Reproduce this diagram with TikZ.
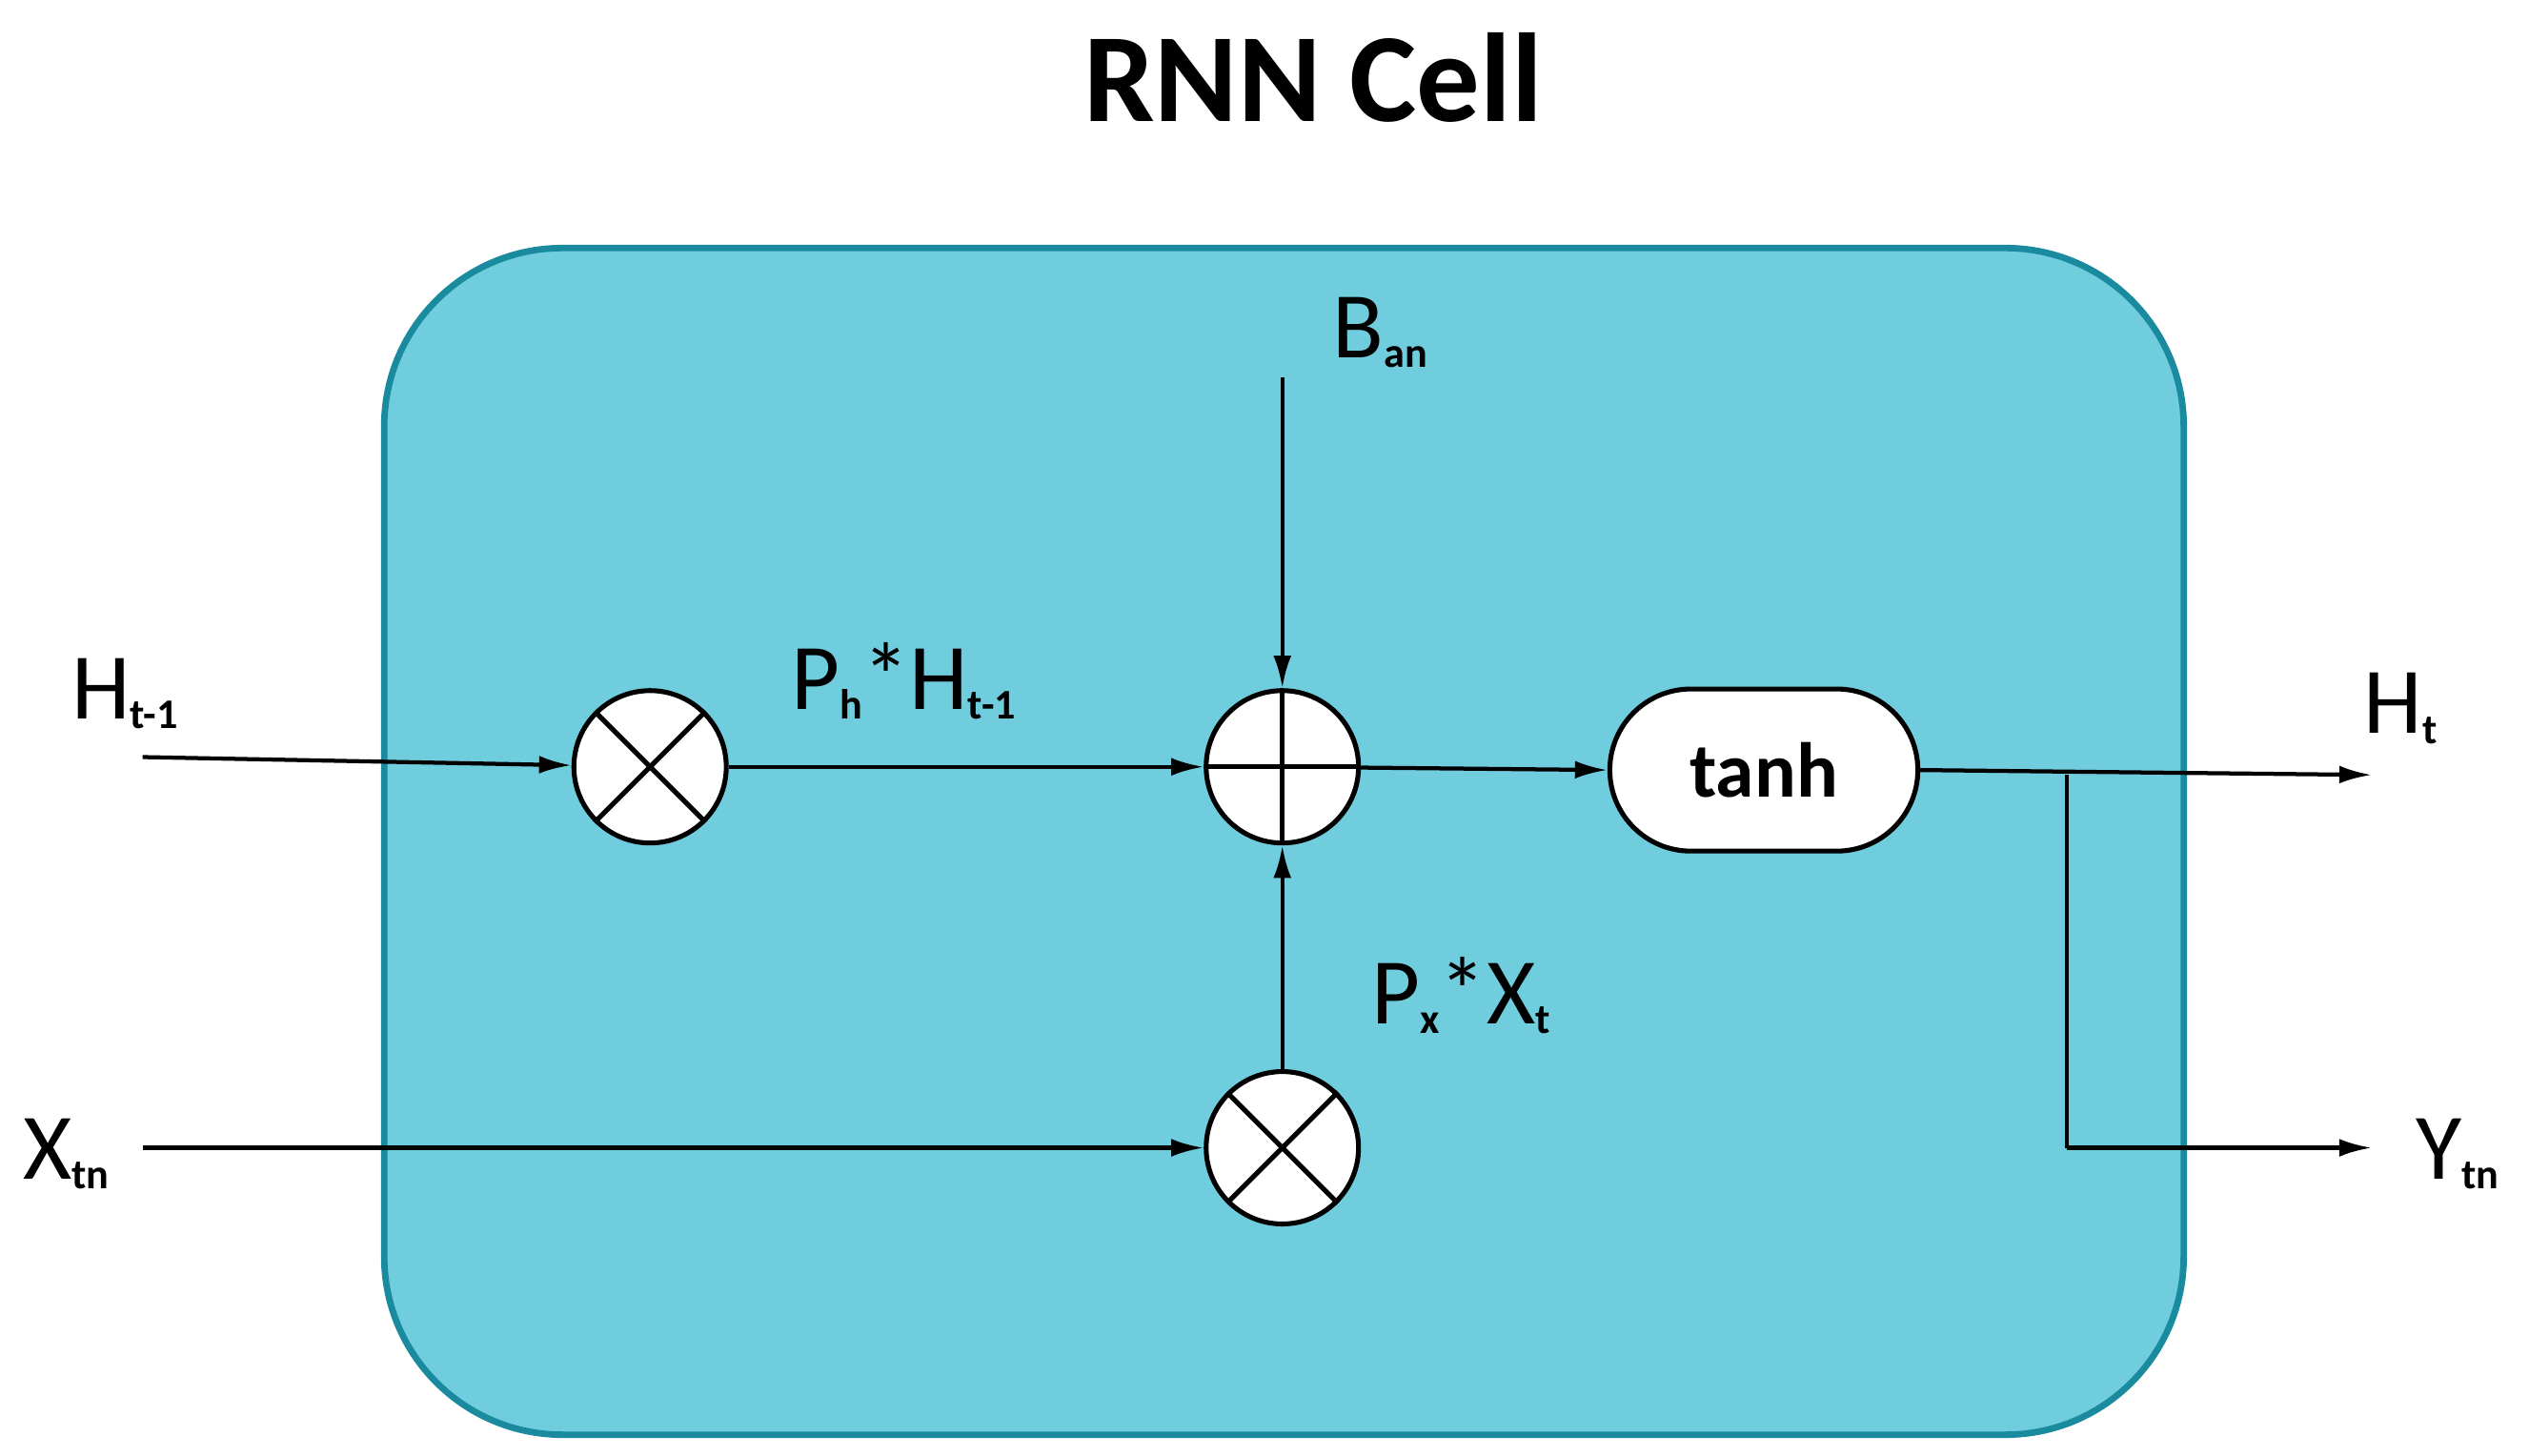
\documentclass[tikz,border=0pt]{standalone}
\usepackage{fontspec}
\setmainfont{Carlito}
\usetikzlibrary{arrows.meta}
\definecolor{cellfill}{HTML}{70CDDE}
\definecolor{celledge}{HTML}{1A8A9E}
\newcommand{\sbx}[1]{\raisebox{-6pt}{\fontsize{26}{26}\selectfont\bfseries #1}}
\begin{document}
\begin{tikzpicture}[x=1pt,y=-1pt,
  lbl/.style={font=\fontsize{58}{60}\selectfont, inner sep=0pt},
  op/.style={circle, draw, line width=3pt, fill=white, minimum size=94pt, inner sep=0pt},
  arr/.style={line width=2.5pt, -{Latex[length=20pt,width=11pt]}},
  ln/.style={line width=2.5pt}]
\useasboundingbox (0,0) rectangle (1560,898);
\node[font=\fontsize{78}{80}\selectfont\bfseries] (title) at (810,48) {RNN Cell};
\node[draw=celledge, line width=4pt, fill=cellfill, rounded corners=110pt,
  minimum width=1110pt, minimum height=732pt] (cell) at (792,519) {};
\node[op] (m1) at (401,473) {};
\draw[line width=3pt] (m1.45)--(m1.225) (m1.135)--(m1.315);
\node[op] (pl) at (791,473) {};
\draw[line width=3pt] (pl.north)--(pl.south) (pl.west)--(pl.east);
\node[op] (m2) at (791,708) {};
\draw[line width=3pt] (m2.45)--(m2.225) (m2.135)--(m2.315);
\node[draw, line width=3pt, fill=white, rounded corners=50pt, minimum width=190pt,
  minimum height=100pt, font=\fontsize{48}{50}\selectfont\bfseries] (th) at (1088,475) {tanh};
\coordinate (hin) at (88,467);
\coordinate (xin) at (88,708);
\coordinate (bin) at (791,233);
\coordinate (hout) at (1463,478);
\coordinate (br) at (1275,478);
\coordinate (brd) at (1275,708);
\coordinate (yout) at (1463,708);
\draw[arr] (hin) -- (m1);
\draw[arr] (m1) -- (pl);
\draw[arr] (bin) -- (pl);
\draw[arr] (m2) -- (pl);
\draw[arr] (pl) -- (th.west);
\draw[arr] (th.east) -- (hout);
\draw[ln] (br) -- (brd);
\draw[arr] (brd) -- (yout);
\draw[arr] (xin) -- (m2);
\node[lbl, anchor=west] (lb) at (822,205) {B\sbx{an}};
\node[lbl, anchor=west] (lh) at (44,428) {H\sbx{t-1}};
\node[lbl, anchor=west] (lph) at (488,420) {P\sbx{h}*H\sbx{t-1}};
\node[lbl, anchor=west] (lpx) at (846,614) {P\sbx{x}*X\sbx{t}};
\node[lbl, anchor=west] (lht) at (1458,437) {H\sbx{t}};
\node[lbl, anchor=west] (lx) at (14,712) {X\sbx{tn}};
\node[lbl, anchor=west] (ly) at (1490,712) {Y\sbx{tn}};
\end{tikzpicture}
\end{document}
